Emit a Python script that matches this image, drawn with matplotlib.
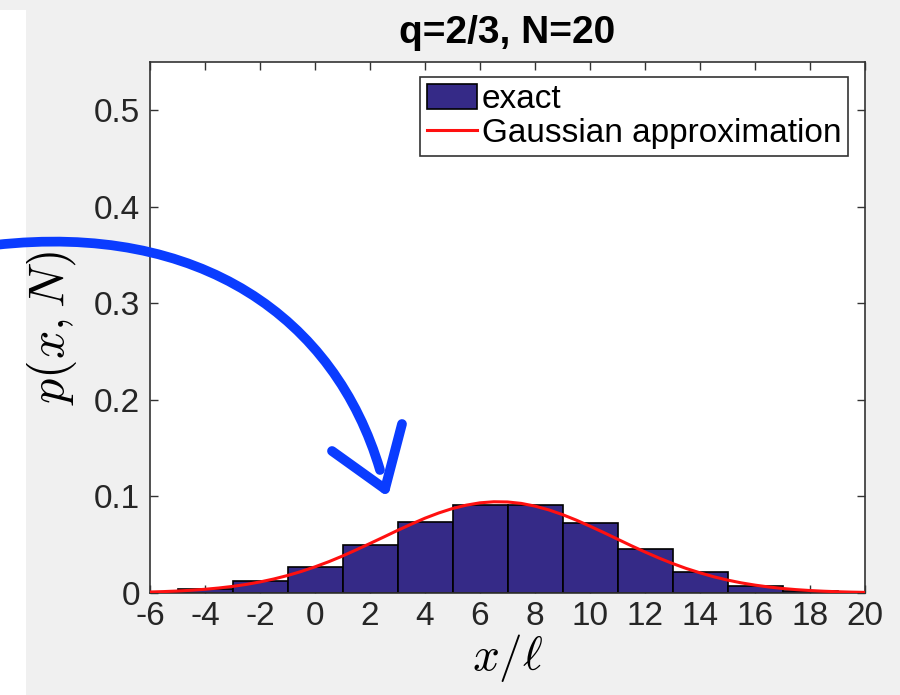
import matplotlib
matplotlib.use("Agg")
import matplotlib.pyplot as plt
import numpy as np
from matplotlib.patches import Rectangle, PathPatch
from matplotlib.path import Path
from matplotlib.lines import Line2D

# ---- data ----
bin_centers = [-6, -4, -2, 0, 2, 4, 6, 8, 10, 12, 14, 16, 18, 20]
exact_p = [0.0014, 0.0046, 0.0124, 0.0271, 0.0493, 0.0740, 0.0910, 0.0910,
           0.0729, 0.0455, 0.0214, 0.0072, 0.0016, 0.0002]

gauss_x = [-6, -5.5, -5, -4.5, -4, -3.5, -3, -2.5, -2, -1.5, -1, -0.5, 0, 0.5,
           1, 1.5, 2, 2.5, 3, 3.5, 4, 4.5, 5, 5.5, 6, 6.5, 7, 7.5, 8, 8.5,
           9, 9.5, 10, 10.5, 11, 11.5, 12, 12.5, 13, 13.5, 14, 14.5, 15, 15.5,
           16, 16.5, 17, 17.5, 18, 18.5, 19, 19.5, 20]
gauss_p = [0.00104, 0.00147, 0.00206, 0.00284, 0.00386, 0.00517, 0.00683,
           0.00889, 0.01144, 0.0145, 0.0181, 0.0223, 0.0271, 0.0324, 0.0383,
           0.0447, 0.0513, 0.0580, 0.0648, 0.0713, 0.0775, 0.0829, 0.0875,
           0.0910, 0.0934, 0.0945, 0.0943, 0.0928, 0.0900, 0.0861, 0.0812,
           0.0755, 0.0692, 0.0626, 0.0558, 0.0490, 0.0425, 0.0363, 0.0306,
           0.0254, 0.0209, 0.0168, 0.0134, 0.0105, 0.00817, 0.00623, 0.00469,
           0.00348, 0.00255, 0.00184, 0.00131, 0.00092, 0.00064]

x_ticks = [-6, -4, -2, 0, 2, 4, 6, 8, 10, 12, 14, 16, 18, 20]
y_ticks = [0, 0.1, 0.2, 0.3, 0.4, 0.5]
y_tick_labels = ["0", "0.1", "0.2", "0.3", "0.4", "0.5"]

title = "q=2/3, N=20"
labels = ["exact", "Gaussian approximation"]

# ---- style ----
plt.rcParams['font.family'] = ['Liberation Sans', 'DejaVu Sans']
plt.rcParams['mathtext.fontset'] = 'cm'

W, H = 900, 695
fig = plt.figure(figsize=(9, 6.95), dpi=100, facecolor='#f0f0f0')
fig.patches.append(Rectangle((0, 0), 26 / W, (H - 10) / H, transform=fig.transFigure,
                             facecolor='white', edgecolor='none', zorder=0))

ax = fig.add_axes([150 / W, (H - 593) / H, (865 - 150) / W, (593 - 62) / H])
ax.set_facecolor('white')

bars = ax.bar(bin_centers, exact_p, width=2.0, color='#352a87', edgecolor='black',
              linewidth=1.2, label=labels[0], zorder=2)
line, = ax.plot(gauss_x, gauss_p, color='#ff1010', linewidth=2.2, label=labels[1], zorder=3)

ax.set_xlim(-6, 20)
ax.set_ylim(0, 0.55)
ax.set_xticks(x_ticks)
ax.set_xticklabels([str(t) for t in x_ticks])
ax.set_yticks(y_ticks)
ax.set_yticklabels(y_tick_labels)

for s in ax.spines.values():
    s.set_color('#333333')
    s.set_linewidth(1.2)
ax.tick_params(direction='in', length=6, width=1.0, color='#333333',
               top=True, right=True, labelsize=24, labelcolor='#262626')
ax.tick_params(axis='x', pad=6)
ax.tick_params(axis='y', pad=7)

ax.set_title(title, fontsize=28, fontweight='bold', pad=14)
ax.set_ylabel(r'$p(x,N)$', fontsize=36, labelpad=11)
ax.set_xlabel(r'$x/\ell$', fontsize=34, labelpad=0)

leg = ax.legend(handles=[bars, line], labels=labels, loc='upper right',
                bbox_to_anchor=((848 - 150) / (865 - 150), (593 - 77) / (593 - 62)),
                fontsize=24, frameon=True, fancybox=False, framealpha=1,
                edgecolor='#333333', handlelength=1.5, handleheight=0.8,
                handletextpad=0.15, labelspacing=0.08, borderpad=0.2,
                borderaxespad=0)
leg.get_frame().set_linewidth(1.2)

# ---- hand-drawn blue arrow annotation (figure pixel coords, origin top-left) ----
def fp(x, y):
    return (x / W, (H - y) / H)

blue = '#0a3cff'
curve = Path([fp(-5, 245), fp(200, 222), fp(335, 318), fp(380, 470)],
             [Path.MOVETO, Path.CURVE4, Path.CURVE4, Path.CURVE4])
fig.patches.append(PathPatch(curve, transform=fig.transFigure, facecolor='none',
                             edgecolor=blue, linewidth=7, capstyle='round', zorder=10))
for (x0, y0) in [(332, 451), (402, 424)]:
    xs, ys = zip(fp(x0, y0), fp(385, 489))
    fig.lines.append(Line2D(xs, ys, transform=fig.transFigure, color=blue,
                            linewidth=7, solid_capstyle='round', zorder=10))

fig.savefig('out.png', dpi=100, facecolor=fig.get_facecolor())
